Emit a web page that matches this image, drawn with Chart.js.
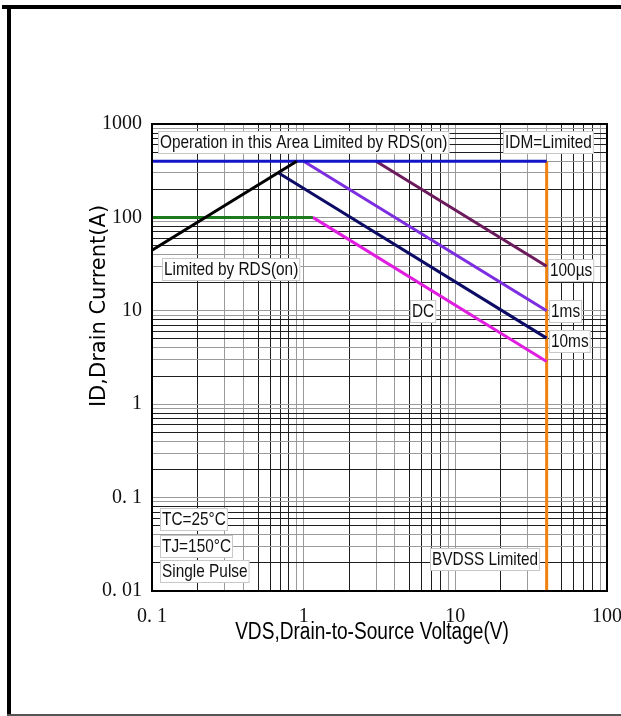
<!DOCTYPE html>
<html>
<head>
<meta charset="utf-8">
<script src="https://cdn.jsdelivr.net/npm/chart.js@4"></script>
<style>
  html, body { margin: 0; padding: 0; background: #fff; }
  #wrap { position: relative; width: 621px; height: 716px; overflow: hidden; }
  #soa { position: absolute; left: 0; top: 0; }
  .edge { position: absolute; }
</style>
</head>
<body>
<div id="wrap">
  <canvas id="soa" width="621" height="716"></canvas>
  <div class="edge" style="left:2px;top:5px;width:619px;height:4px;background:#000"></div>
  <div class="edge" style="left:7px;top:9px;width:4px;height:707px;background:#000"></div>
  <div class="edge" style="left:7px;top:714px;width:614px;height:2px;background:#555"></div>
</div>
<script>
// axis decades and their printed labels
const xDecades = [0.1, 1, 10, 100];
const xTickLabels = ['0. 1', '1', '10', '100'];
const yDecades = [0.01, 0.1, 1, 10, 100, 1000];
const yTickLabels = ['0. 01', '0. 1', '1', '10', '100', '1000'];

// limit lines (VDS in V, ID in A)
const rdsV = [0.1, 0.9];
const rdsI = [44.5, 400];
const idmV = [0.1, 40];
const idmI = [400, 400];
const pkgV = [0.1, 1.15];
const pkgI = [100, 100];
const us100V = [3, 40];
const us100I = [400, 30];
const ms1V = [1, 40];
const ms1I = [400, 10];
const ms10V = [0.68, 40];
const ms10I = [300, 5.1];
const dcV = [1.15, 40];
const dcI = [100, 2.87];
const bvdssV = [40, 40];
const bvdssI = [400, 0.01];

function pts(xs, ys) {
    return xs.map((v, i) => ({x: v, y: ys[i]}));
}

function gridTicks(decades) {
    var out = [];
    for (var d = 0; d < decades.length - 1; d++) {
        for (var s = 1; s < 10; s++) {
            out.push({value: s * decades[d]});
        }
    }
    out.push({value: decades[decades.length - 1]});
    return out;
}

function tickText(decades, labels) {
    return function(value) {
        for (var i = 0; i < decades.length; i++) {
            if (Math.abs(value / decades[i] - 1) < 1e-6) return labels[i];
        }
        return '';
    };
}

function gridColor(ctx) {
    const v = ctx.tick ? ctx.tick.value : 1;
    const s = Math.round(v / Math.pow(10, Math.floor(Math.log10(v) + 1e-9)));
    return (s === 1 || s === 3 || s === 4 || s === 9) ? '#9a9a9a' : '#1e1e1e';
}

const notes = [
    {x: 0.11, y: 640, text: 'Operation in this Area Limited by RDS(on)'},
    {x: 20.6, y: 640, text: 'IDM=Limited'},
    {x: 0.116, y: 28, text: 'Limited by RDS(on)'},
    {x: 40.8, y: 27.4, text: '100µs'},
    {x: 41.5, y: 10, text: '1ms'},
    {x: 5.0, y: 10, text: 'DC'},
    {x: 41.5, y: 4.75, text: '10ms'},
    {x: 0.113, y: 0.059, text: 'TC=25°C'},
    {x: 0.113, y: 0.030, text: 'TJ=150°C'},
    {x: 0.113, y: 0.0164, text: 'Single Pulse'},
    {x: 6.8, y: 0.022, text: 'BVDSS Limited'}
];

const sans = '"Liberation Sans", Arial, sans-serif';
const squeeze = 0.81;

const decorPlugin = {
    id: 'decor',
    afterDraw(chart) {
        const c = chart.ctx;
        const a = chart.chartArea;
        const xs = chart.scales.x;
        const ys = chart.scales.y;
        c.save();
        // frame of the plot
        c.strokeStyle = '#000';
        c.lineWidth = 2;
        c.strokeRect(a.left, a.top, a.right - a.left, a.bottom - a.top);

        // boxed notes, condensed text
        c.font = '19px ' + sans;
        c.textBaseline = 'middle';
        c.textAlign = 'left';
        notes.forEach(n => {
            const px = Math.round(xs.getPixelForValue(n.x));
            const py = Math.round(ys.getPixelForValue(n.y));
            const w = c.measureText(n.text).width * squeeze;
            c.fillStyle = '#fff';
            c.fillRect(px, py - 11, w + 4, 23);
            c.strokeStyle = '#c8c8c8';
            c.lineWidth = 1;
            c.strokeRect(px + 0.5, py - 10.5, w + 3, 22);
            c.save();
            c.translate(px + 2, py + 1);
            c.scale(squeeze, 1);
            c.fillStyle = '#111';
            c.fillText(n.text, 0, 0);
            c.restore();
        });

        // axis titles
        c.fillStyle = '#000';
        c.textAlign = 'center';
        c.save();
        c.translate(372, 633);
        c.scale(0.83, 1);
        c.font = '23px ' + sans;
        c.fillText('VDS,Drain-to-Source Voltage(V)', 0, 0);
        c.restore();
        c.translate(100, 306);
        c.rotate(-Math.PI / 2);
        c.font = '21px "DejaVu Sans", sans-serif';
        c.fillText('ID,Drain Current(A)', 0, 0);
        c.restore();
    }
};

const ctx = document.getElementById('soa');

const series = [
    {d: pts(rdsV, rdsI), c: '#000000'},
    {d: pts(idmV, idmI), c: '#1414c8'},
    {d: pts(pkgV, pkgI), c: '#1b7a1b'},
    {d: pts(us100V, us100I), c: '#6b1b5c'},
    {d: pts(ms1V, ms1I), c: '#7c2ee0'},
    {d: pts(ms10V, ms10I), c: '#0c0c66'},
    {d: pts(dcV, dcI), c: '#e01ee0'},
    {d: pts(bvdssV, bvdssI), c: '#f0820f'}
];

window.chart = new Chart(ctx, {
    type: 'line',
    data: {
        datasets: series.map(s => ({
            data: s.d,
            borderColor: s.c,
            borderWidth: 3,
            pointRadius: 0,
            fill: false,
            tension: 0
        }))
    },
    options: {
        responsive: false,
        animation: false,
        events: [],
        layout: {padding: {top: 124, right: 14, bottom: 0, left: 0}},
        plugins: {legend: {display: false}, tooltip: {enabled: false}},
        scales: {
            x: {
                type: 'logarithmic',
                min: 0.1,
                max: 100,
                afterBuildTicks: s => { s.ticks = gridTicks(xDecades); },
                afterFit: s => { s.height = 125; s.paddingLeft = 0; s.paddingRight = 0; },
                ticks: {
                    autoSkip: false,
                    maxRotation: 0,
                    padding: 14,
                    color: '#111',
                    font: {family: '"Liberation Serif", serif', size: 20},
                    callback: tickText(xDecades, xTickLabels)
                },
                grid: {color: gridColor, lineWidth: 1, drawTicks: false},
                border: {color: '#000', width: 2}
            },
            y: {
                type: 'logarithmic',
                min: 0.01,
                max: 1000,
                afterBuildTicks: s => { s.ticks = gridTicks(yDecades); },
                afterFit: s => { s.width = 152; s.paddingTop = 0; s.paddingBottom = 0; },
                ticks: {
                    autoSkip: false,
                    padding: 10,
                    color: '#111',
                    font: {family: '"Liberation Serif", serif', size: 20},
                    callback: tickText(yDecades, yTickLabels)
                },
                grid: {color: gridColor, lineWidth: 1, drawTicks: false},
                border: {color: '#000', width: 2}
            }
        }
    },
    plugins: [decorPlugin]
});
</script>
</body>
</html>
